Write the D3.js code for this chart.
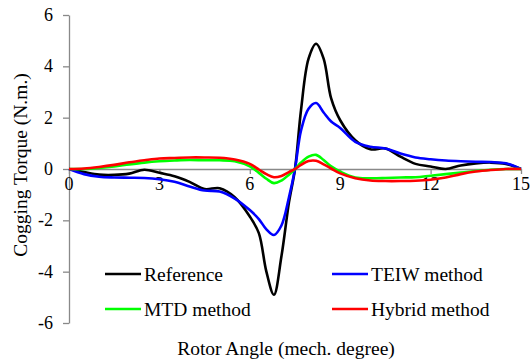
<!DOCTYPE html>
<meta charset="utf-8">
<style>
body {
  margin: 0;
  background: #fff;
  font-family: "Liberation Serif", "Times New Roman", serif;
}
.series {
  fill: none;
  stroke-width: 2.6px;
  stroke-linejoin: round;
}
.lbl {
  font-family: "Liberation Serif", "Times New Roman", serif;
  font-size: 18px;
  fill: #000;
}
</style>
<svg width="530" height="362"></svg>
<script src="https://d3js.org/d3.v7.min.js"></script>
<script>

// rotor angle (mech. degree)
var angle = [0, 0.5, 1, 1.5, 2, 2.5, 3, 3.5, 4, 4.5, 5, 5.5, 6, 6.3, 6.55, 6.8, 7.05, 7.3, 7.5,
  7.7, 7.95, 8.2, 8.45, 8.7, 9, 9.5, 10, 10.5, 11, 11.5, 12, 12.5, 13, 13.5, 14, 14.5, 15];

// cogging torque (N.m.)
var reference = [0, -0.12, -0.22, -0.23, -0.18, -0.03, -0.15, -0.28, -0.5, -0.78, -0.75, -1.1, -1.85, -2.5, -4.0, -4.9, -3.4, -1.3, 0,
  2.3, 4.3, 4.88, 4.3, 2.75, 1.9, 1.12, 0.77, 0.8, 0.48, 0.2, 0.1, 0.0, 0.14, 0.22, 0.25, 0.2, 0];
var teiw = [0, -0.2, -0.3, -0.33, -0.34, -0.35, -0.4, -0.5, -0.68, -0.84, -0.88, -1.15, -1.6, -1.95, -2.35, -2.57, -2.2, -1.1, 0,
  1.5, 2.35, 2.57, 2.2, 1.85, 1.6, 1.06, 0.87, 0.8, 0.6, 0.45, 0.38, 0.33, 0.3, 0.28, 0.27, 0.22, 0];
var mtd = [0, 0, 0.04, 0.1, 0.18, 0.25, 0.3, 0.33, 0.35, 0.34, 0.34, 0.3, 0.1, -0.15, -0.38, -0.55, -0.45, -0.22, 0,
  0.25, 0.48, 0.55, 0.35, 0.1, -0.1, -0.33, -0.36, -0.35, -0.33, -0.32, -0.26, -0.2, -0.14, -0.08, -0.03, 0, 0];
var hybrid = [0, 0.02, 0.08, 0.16, 0.26, 0.34, 0.41, 0.43, 0.45, 0.45, 0.44, 0.37, 0.2, -0.02, -0.2, -0.32, -0.27, -0.12, 0,
  0.16, 0.31, 0.32, 0.18, 0.02, -0.17, -0.36, -0.45, -0.47, -0.47, -0.46, -0.42, -0.33, -0.2, -0.1, -0.04, 0, 0];

var seriesNames = ["Reference", "TEIW method", "MTD method", "Hybrid method"];
var seriesColors = ["#000000", "#0000ff", "#00ff00", "#ff0000"];
var xTicks = [0, 3, 6, 9, 12, 15];
var yTicks = [-6, -4, -2, 0, 2, 4, 6];

var svg = d3.select("svg"),
    margin = {top: 15, right: 9, bottom: 39, left: 69},
    width = +svg.attr("width"),
    height = +svg.attr("height");

var x = d3.scaleLinear()
    .domain([0, 15])
    .range([margin.left, width - margin.right]);

var y = d3.scaleLinear()
    .domain([-6, 6])
    .range([height - margin.bottom, margin.top]);

var data = [reference, teiw, mtd, hybrid].map(function(vals, i) {
  return {
    name: seriesNames[i],
    color: seriesColors[i],
    values: vals.map(function(v, j) { return [angle[j], v]; })
  };
});

// axes: lines and ticks from d3.axis, labels drawn as own text
var yAxis = svg.append("g")
    .attr("transform", "translate(" + margin.left + ",0)")
    .call(d3.axisLeft(y).tickValues(yTicks).tickSize(6).tickSizeOuter(0).tickFormat(""));

var xAxis = svg.append("g")
    .attr("transform", "translate(0," + y(0) + ")")
    .call(d3.axisBottom(x).tickValues(xTicks).tickSize(5).tickSizeOuter(0).tickFormat(""));

[xAxis, yAxis].forEach(function(g) {
  g.selectAll("path, line")
    .attr("stroke", "#898989")
    .attr("stroke-width", 1.3);
});

svg.append("g")
  .selectAll("text")
  .data(yTicks)
  .enter().append("text")
    .attr("class", "lbl")
    .attr("x", margin.left - 16)
    .attr("y", function(d) { return y(d); })
    .attr("dy", "0.34em")
    .attr("text-anchor", "end")
    .text(function(d) { return d < 0 ? "-" + Math.abs(d) : d; });

svg.append("g")
  .selectAll("text")
  .data(xTicks)
  .enter().append("text")
    .attr("class", "lbl")
    .attr("x", function(d) { return x(d); })
    .attr("y", y(0) + 21)
    .attr("text-anchor", "middle")
    .text(function(d) { return d; });

var line = d3.line()
    .curve(d3.curveCatmullRom.alpha(0.5))
    .x(function(d) { return x(d[0]); })
    .y(function(d) { return y(d[1]); });

svg.append("g")
  .selectAll("path")
  .data(data)
  .enter().append("path")
    .attr("class", "series")
    .attr("stroke", function(d) { return d.color; })
    .attr("d", function(d) { return line(d.values); });

// legend, two columns
var legend = svg.append("g")
  .selectAll("g")
  .data(data)
  .enter().append("g")
    .attr("transform", function(d, i) {
      return "translate(" + (i % 2 ? 332 : 105) + "," + (i < 2 ? 274 : 309) + ")";
    });

legend.append("line")
    .attr("x1", 0)
    .attr("x2", 36)
    .attr("stroke", function(d) { return d.color; })
    .attr("stroke-width", 2.6);

legend.append("text")
    .attr("x", 39)
    .attr("y", 6.5)
    .style("font-size", "19.5px")
    .text(function(d) { return d.name; });

svg.append("text")
    .attr("x", 286)
    .attr("y", 355)
    .attr("text-anchor", "middle")
    .style("font-size", "19.5px")
    .text("Rotor Angle (mech. degree)");

svg.append("text")
    .attr("transform", "translate(27," + 165 + ") rotate(-90)")
    .attr("text-anchor", "middle")
    .style("font-size", "19.5px")
    .text("Cogging Torque (N.m.)");

</script>
